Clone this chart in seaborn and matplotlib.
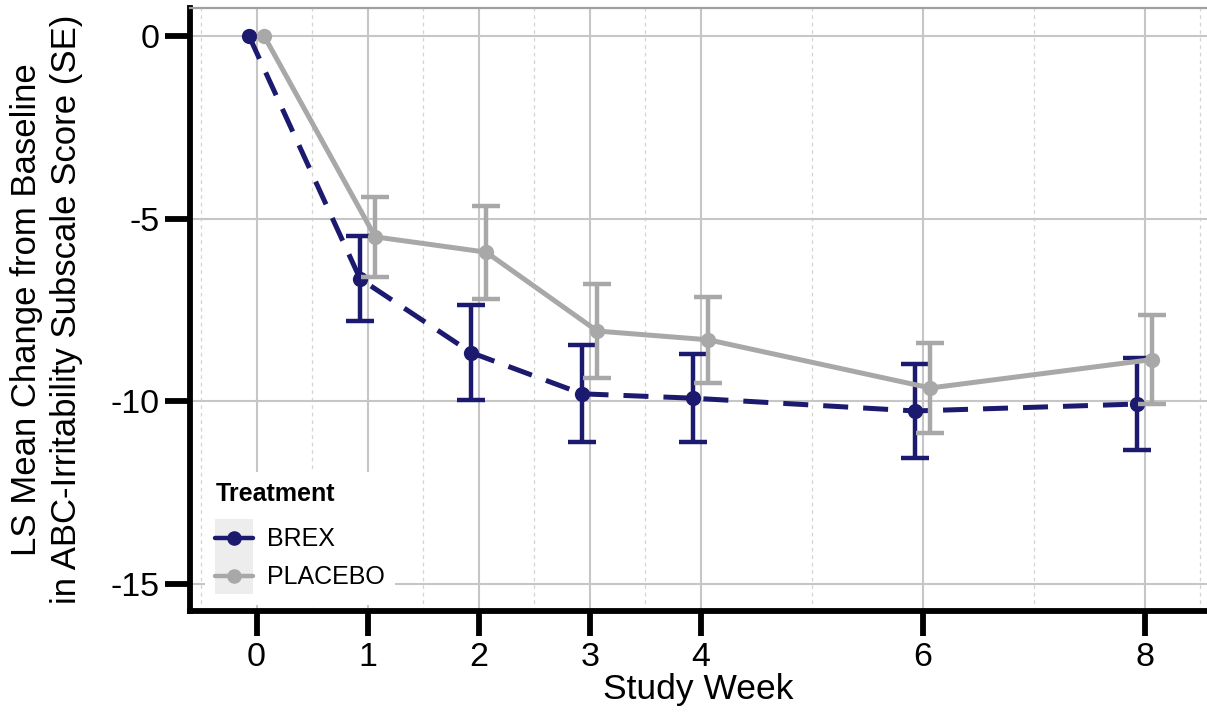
import numpy as np
import pandas as pd
import matplotlib
matplotlib.use("Agg")
import matplotlib.pyplot as plt
from matplotlib.lines import Line2D
from matplotlib.patches import Rectangle
from matplotlib.legend_handler import HandlerTuple, HandlerLine2D
import seaborn as sns

# ---------------------------------------------------------------------------
# data
# ---------------------------------------------------------------------------
weeks = [0, 1, 2, 3, 4, 6, 8]
treatments = ["BREX", "PLACEBO"]
brex_mean = [0.0, -6.65, -8.67, -9.80, -9.92, -10.27, -10.08]
brex_se = [0.0, 1.16, 1.30, 1.33, 1.20, 1.28, 1.26]
placebo_mean = [0.0, -5.50, -5.92, -8.08, -8.32, -9.64, -8.86]
placebo_se = [0.0, 1.10, 1.27, 1.28, 1.17, 1.24, 1.22]
y_ticks = [0, -5, -10, -15]

palette = {"BREX": "#1B1A6E", "PLACEBO": "#A8A8A8"}
dodge = {"BREX": -0.068, "PLACEBO": 0.068}

df = pd.concat([
    pd.DataFrame({"week": weeks, "mean": brex_mean, "se": brex_se,
                  "Treatment": "BREX"}),
    pd.DataFrame({"week": weeks, "mean": placebo_mean, "se": placebo_se,
                  "Treatment": "PLACEBO"}),
], ignore_index=True)
df["x"] = df["week"] + df["Treatment"].map(dodge)


class CenteredLine(HandlerLine2D):
    """Legend line + marker centred in the key box (like ggplot keys)."""

    def create_artists(self, legend, orig_handle, xdescent, ydescent,
                       width, height, fontsize, trans):
        artists = super().create_artists(legend, orig_handle, xdescent,
                                         ydescent, width, height, fontsize,
                                         trans)
        yc = height / 2 - ydescent
        for a in artists:
            a.set_ydata([yc] * len(a.get_xdata()))
        return artists


# ---------------------------------------------------------------------------
# style
# ---------------------------------------------------------------------------
sns.set_style("white")
plt.rcParams["font.family"] = ["Liberation Sans", "DejaVu Sans"]
plt.rcParams["axes.unicode_minus"] = False
plt.rcParams["text.color"] = "black"
plt.rcParams["axes.labelcolor"] = "black"
plt.rcParams["xtick.color"] = "black"
plt.rcParams["ytick.color"] = "black"

fig = plt.figure(figsize=(12.07, 7.15), dpi=100)
ax = fig.add_axes([190 / 1207, 1 - 611 / 715, 1 - 190 / 1207, (611 - 8) / 715])

zo = 3
for trt in treatments:
    sub = df[df["Treatment"] == trt]
    col = palette[trt]
    sns.lineplot(data=sub, x="x", y="mean", color=col, lw=3.6,
                 marker="o", markersize=11, markeredgewidth=0,
                 estimator=None, sort=False, legend=False, ax=ax, zorder=zo)
    if trt == "BREX":
        ax.lines[-1].set_dashes((5, 3))
    eb = sub[sub["se"] > 0]
    ax.errorbar(eb["x"], eb["mean"], yerr=eb["se"], fmt="none",
                ecolor=col, elinewidth=3.2, capsize=10, capthick=3.2,
                zorder=zo + 0.5)
    zo += 1

# ---------------------------------------------------------------------------
# axes
# ---------------------------------------------------------------------------
ax.set_xlim(-0.6, 8.56)
ax.set_ylim(-15.75, 0.77)
ax.set_xticks(weeks)
ax.set_xticklabels([str(w) for w in weeks])
ax.set_xticks([-0.5, 0.5, 1.5, 2.5, 3.5, 5, 7, 8.5], minor=True)
ax.set_yticks(y_ticks)
ax.set_yticklabels([str(v) for v in y_ticks])

ax.set_axisbelow(True)
ax.grid(which="major", color="#C6C6C6", lw=1.5)
ax.grid(which="minor", axis="x", color="#D4D4D4", lw=0.9, linestyle=(0, (3, 3)))

for side in ["left", "bottom"]:
    ax.spines[side].set_linewidth(4.2)
    ax.spines[side].set_color("black")
ax.spines["top"].set_color("#A0A0A0")
ax.spines["top"].set_linewidth(1.6)
ax.spines["right"].set_visible(False)

ax.tick_params(which="major", length=18, width=4.2, color="black",
               labelsize=24.5, pad=4, left=True, bottom=True)
ax.tick_params(which="minor", length=0)

ax.set_xlabel("Study Week", fontsize=25.5, labelpad=0)
ax.set_ylabel("LS Mean Change from Baseline\nin ABC-Irritability Subscale Score (SE)",
              fontsize=25, labelpad=20, linespacing=1.25)

# ---------------------------------------------------------------------------
# legend with grey key background
# ---------------------------------------------------------------------------
handles = []
for trt in treatments:
    bg = Rectangle((0, 0), 1, 1, facecolor="#EDEDED", edgecolor="none")
    ln = Line2D([], [], color=palette[trt], lw=3.2, marker="o",
                markersize=10.5, markeredgewidth=0)
    handles.append((bg, ln))

leg = ax.legend(handles, treatments, title="Treatment",
                handler_map={tuple: HandlerTuple(ndivide=1, pad=0),
                             Line2D: CenteredLine()},
                loc="lower left", bbox_to_anchor=(0.0147, 0.01),
                borderaxespad=0,
                fontsize=18, title_fontsize=18, frameon=True,
                facecolor="white", edgecolor="none", framealpha=1,
                fancybox=False, handlelength=1.5, handleheight=1.95,
                labelspacing=0, handletextpad=0.55, borderpad=0.42,
                alignment="left")
leg.get_title().set_fontweight("bold")
leg._legend_box.sep = 9

fig.savefig("out.png", dpi=100)
